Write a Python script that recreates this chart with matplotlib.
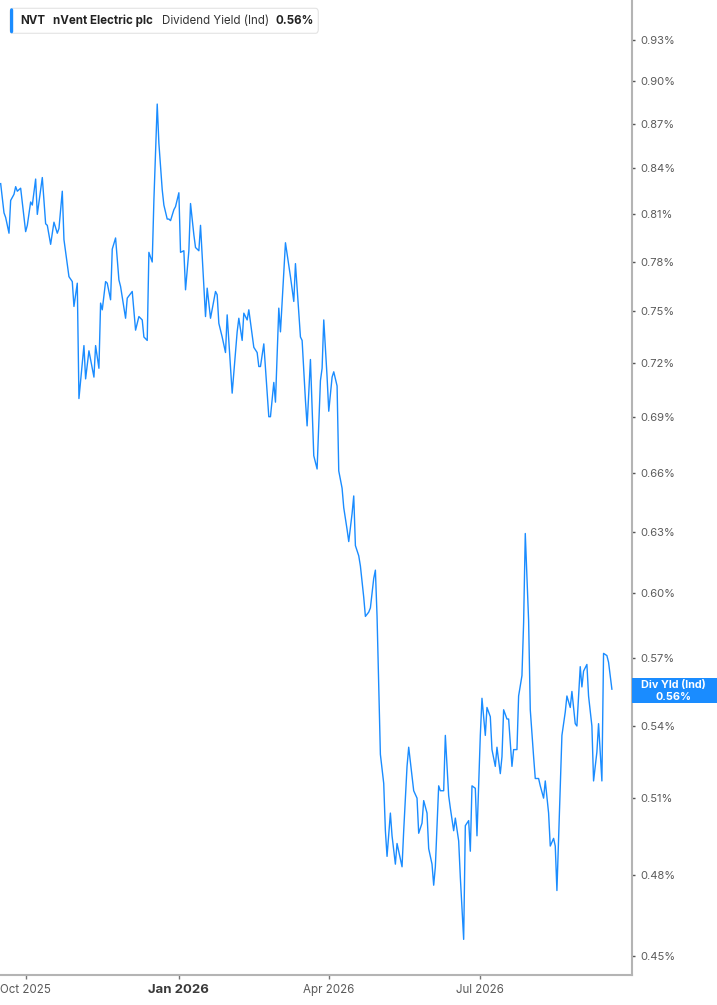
import matplotlib
matplotlib.use("Agg")
import matplotlib.pyplot as plt
from matplotlib.patches import FancyBboxPatch, Rectangle
from matplotlib.ticker import FixedLocator, NullLocator
import pandas as pd

plt.rcParams['font.family'] = ['Inter', 'DejaVu Sans']

# dividend yield (%), dates as days after 1 Oct 2025
start_date = "2025-10-01"
day_offset = [
    -15, -13, -12, -10, -9, -7, -6, -5, -3, 0,
    1, 3, 4, 6, 7, 10, 12, 13, 15, 17,
    19, 20, 22, 23, 26, 28, 29, 31, 32, 35,
    36, 38, 41, 42, 44, 45, 46, 48, 49, 51,
    52, 54, 56, 57, 60, 61, 64, 66, 68, 70,
    71, 73, 74, 76, 77, 79, 80, 82, 83, 85,
    86, 87, 89, 90, 92, 93, 95, 96, 98, 99,
    101, 102, 104, 105, 108, 109, 111, 114, 115, 116,
    118, 120, 121, 124, 127, 128, 130, 131, 133, 134,
    137, 139, 140, 141, 143, 146, 147, 149, 150, 152,
    153, 156, 158, 159, 161, 162, 163, 165, 166, 168,
    169, 171, 173, 175, 177, 178, 179, 181, 182, 184,
    185, 187, 188, 190, 191, 193, 194, 196, 197, 198,
    200, 201, 203, 204, 206, 207, 209, 210, 211, 213,
    215, 216, 217, 219, 220, 222, 223, 225, 226, 227,
    229, 230, 232, 233, 235, 236, 238, 239, 241, 242,
    244, 245, 246, 248, 249, 251, 252, 254, 255, 257,
    258, 260, 261, 263, 264, 266, 267, 268, 270, 271,
    273, 274, 276, 277, 279, 280, 282, 283, 285, 286,
    287, 289, 290, 292, 293, 295, 296, 298, 299, 300,
    302, 303, 305, 306, 308, 309, 311, 312, 314, 315,
    317, 318, 319, 321, 322, 324, 325, 327, 328, 330,
    331, 333, 334, 335, 337, 338, 340, 341, 343, 344,
    346, 347, 349, 350, 352,
]
div_yield = [
    0.830, 0.811, 0.808, 0.798, 0.819, 0.823, 0.828, 0.825, 0.827, 0.799,
    0.803, 0.818, 0.816, 0.833, 0.810, 0.834, 0.804, 0.803, 0.791, 0.805,
    0.798, 0.801, 0.825, 0.794, 0.771, 0.768, 0.753, 0.767, 0.700, 0.730,
    0.711, 0.727, 0.712, 0.730, 0.717, 0.755, 0.751, 0.768, 0.767, 0.757,
    0.788, 0.795, 0.769, 0.765, 0.746, 0.758, 0.762, 0.739, 0.747, 0.745,
    0.735, 0.733, 0.786, 0.780, 0.819, 0.884, 0.857, 0.826, 0.816, 0.807,
    0.807, 0.806, 0.813, 0.815, 0.824, 0.786, 0.787, 0.763, 0.787, 0.817,
    0.797, 0.789, 0.787, 0.803, 0.747, 0.764, 0.746, 0.762, 0.760, 0.743,
    0.735, 0.726, 0.748, 0.703, 0.738, 0.746, 0.733, 0.749, 0.745, 0.751,
    0.729, 0.726, 0.718, 0.718, 0.731, 0.690, 0.690, 0.709, 0.698, 0.752,
    0.738, 0.792, 0.778, 0.771, 0.756, 0.779, 0.764, 0.735, 0.733, 0.699,
    0.685, 0.722, 0.669, 0.662, 0.710, 0.717, 0.745, 0.712, 0.693, 0.712,
    0.715, 0.707, 0.661, 0.652, 0.642, 0.631, 0.625, 0.639, 0.648, 0.623,
    0.618, 0.613, 0.598, 0.589, 0.591, 0.593, 0.607, 0.611, 0.589, 0.528,
    0.516, 0.497, 0.487, 0.504, 0.495, 0.484, 0.492, 0.486, 0.483, 0.497,
    0.523, 0.531, 0.519, 0.513, 0.510, 0.496, 0.500, 0.509, 0.504, 0.490,
    0.484, 0.476, 0.483, 0.515, 0.513, 0.513, 0.536, 0.511, 0.506, 0.497,
    0.502, 0.493, 0.479, 0.456, 0.499, 0.501, 0.489, 0.515, 0.514, 0.495,
    0.536, 0.552, 0.536, 0.548, 0.544, 0.530, 0.523, 0.531, 0.520, 0.527,
    0.547, 0.543, 0.543, 0.523, 0.530, 0.530, 0.553, 0.562, 0.586, 0.629,
    0.587, 0.547, 0.527, 0.518, 0.518, 0.515, 0.510, 0.517, 0.504, 0.491,
    0.494, 0.491, 0.474, 0.515, 0.536, 0.546, 0.553, 0.548, 0.555, 0.541,
    0.540, 0.566, 0.557, 0.564, 0.567, 0.553, 0.540, 0.517, 0.529, 0.541,
    0.517, 0.572, 0.571, 0.568, 0.556,
]
y_ticks = [0.45, 0.48, 0.51, 0.54, 0.57, 0.60, 0.63, 0.66, 0.69, 0.72,
           0.75, 0.78, 0.81, 0.84, 0.87, 0.90, 0.93]
x_tick_dates = ["2025-10-01", "2026-01-01", "2026-04-01", "2026-07-01"]
x_tick_labels = ["Oct 2025", "Jan 2026", "Apr 2026", "Jul 2026"]

ticker = "NVT"
company = "nVent Electric plc"
metric = "Dividend Yield (Ind)"
badge = "Div Yld (Ind)"

BLUE = "#1a8cff"
W, H = 717, 1005

start = pd.Timestamp(start_date)
dates = (start + pd.to_timedelta(day_offset, unit="D")).to_pydatetime()

fig = plt.figure(figsize=(W / 100, H / 100), dpi=100)
ax = fig.add_axes([0, 30 / H, 631.7 / W, 975 / H])

ax.plot(dates, div_yield, color=BLUE, lw=1.0)

ax.set_yscale("log")
ax.set_ylim(0.4433, 0.960)
ax.set_xlim((start - pd.Timedelta(days=15.4)).to_pydatetime(),
            (start + pd.Timedelta(days=363.9)).to_pydatetime())

ax.yaxis.tick_right()
ax.yaxis.set_major_locator(FixedLocator(y_ticks))
ax.yaxis.set_minor_locator(NullLocator())
ax.set_yticklabels([f"{t:.2f}%" for t in y_ticks])
ax.tick_params(axis="y", which="major", length=2.2, width=1, color="#555555",
               pad=4.3, labelsize=8, labelcolor="#5a5a5a")

ax.set_xticks(pd.to_datetime(x_tick_dates).to_pydatetime())
ax.set_xticklabels(x_tick_labels)
ax.xaxis.set_minor_locator(NullLocator())
ax.tick_params(axis="x", which="major", length=3, width=1, color="#777777",
               pad=3.2, labelsize=8.3, labelcolor="#5a5a5a")
for lab in ax.get_xticklabels():
    if lab.get_text().startswith("Jan"):
        lab.set_fontweight("bold")
        lab.set_fontsize(9.5)
        lab.set_color("#3a3a3a")

for side in ("left", "top"):
    ax.spines[side].set_visible(False)
for side in ("right", "bottom"):
    ax.spines[side].set_color("#b4b4b4")
    ax.spines[side].set_linewidth(1.5)


def fx(px):
    return px / W


def fy(py):
    return 1 - py / H


# header box
box = FancyBboxPatch((fx(10), fy(33.3)), fx(318.3) - fx(10), fy(8.3) - fy(33.3),
                     boxstyle="round,pad=0,rounding_size=0.004",
                     transform=fig.transFigure, facecolor="white",
                     edgecolor="#e3e3e3", lw=0.8)
fig.patches.append(box)
bar = FancyBboxPatch((fx(10), fy(33.3)), fx(13.2) - fx(10), fy(8.3) - fy(33.3),
                     boxstyle="round,pad=0,rounding_size=0.002",
                     transform=fig.transFigure, facecolor=BLUE, edgecolor="none")
fig.patches.append(bar)

hy = fy(21)
hs = 8.3
fig.text(fx(20), hy, ticker, fontsize=hs, fontweight="bold", color="#222222", va="center")
fig.text(fx(53.3), hy, company, fontsize=hs, fontweight="bold", color="#222222", va="center")
fig.text(fx(161.7), hy, metric, fontsize=hs, color="#333333", va="center")
fig.text(fx(276), hy, f"{div_yield[-1]:.2f}%", fontsize=hs, fontweight="bold",
         color="#222222", va="center")

# last value badge on the right axis
fig.patches.append(Rectangle((fx(632), fy(703)), fx(717) - fx(632), fy(678) - fy(703),
                             transform=fig.transFigure, facecolor=BLUE, edgecolor="none"))
fig.text(fx(673), fy(684.5), badge, fontsize=7.8, fontweight="bold", color="white",
         ha="center", va="center")
fig.text(fx(673), fy(696.5), f"{div_yield[-1]:.2f}%", fontsize=7.8, fontweight="bold",
         color="white", ha="center", va="center")

fig.savefig("out.png", dpi=100)
